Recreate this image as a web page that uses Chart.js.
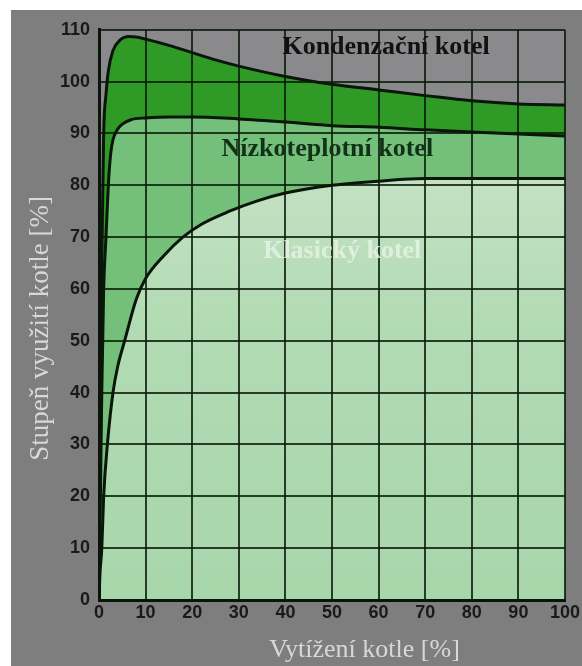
<!DOCTYPE html>
<html>
<head>
<meta charset="utf-8">
<script src="https://cdn.jsdelivr.net/npm/chart.js@4.4.1/dist/chart.umd.min.js"></script>
<style>
    html, body { margin: 0; padding: 0; background: #ffffff; }
    #wrap { position: absolute; left: 11px; top: 10px; width: 571px; height: 656px; background: #7e7e7e; }
</style>
</head>
<body>
<div id="wrap"><canvas id="kotle"></canvas></div>
<script>
// osa x: vytížení kotle [%]
var xTicks = [0, 10, 20, 30, 40, 50, 60, 70, 80, 90, 100];
var yTicks = [0, 10, 20, 30, 40, 50, 60, 70, 80, 90, 100, 110];

// klasický kotel
var xKlasicky = [0, 0.2, 0.6, 1, 1.8, 3, 4, 5.5, 8, 10, 14, 18, 22, 28, 34, 40, 50, 60, 70, 80, 90, 100];
var yKlasicky = [0, 5, 10, 20, 30, 40, 45, 50, 58, 62, 66.5, 70, 72.5, 75, 77, 78.5, 80, 80.8, 81.3, 81.3, 81.3, 81.3];

// nízkoteplotní kotel
var xNizko = [0, 0.3, 0.6, 1, 1.5, 2, 2.5, 3, 4, 5, 7, 10, 15, 20, 30, 40, 50, 60, 70, 80, 90, 100];
var yNizko = [0, 20, 40, 60, 70, 80, 86, 88.8, 90.8, 91.8, 92.7, 93, 93.2, 93.2, 92.8, 92.2, 91.5, 91.2, 90.7, 90.3, 89.9, 89.5];

// kondenzační kotel
var xKondenz = [0, 0.2, 0.5, 1, 1.5, 2, 3, 4.5, 6.5, 8, 10, 15, 20, 25, 30, 40, 50, 60, 70, 80, 90, 100];
var yKondenz = [0, 30, 60, 90, 97.5, 102, 106, 108, 108.7, 108.6, 108.2, 107, 105.6, 104.2, 103, 101, 99.5, 98.4, 97.3, 96.3, 95.7, 95.5];

// popisky v grafu
var popisky = ['Kondenzační kotel', 'Nízkoteplotní kotel', 'Klasický kotel'];
var popiskyX = [61.6, 49, 52.2];
var popiskyY = [106.6, 87, 67.3];

function body(xs, ys) {
    return xs.map(function(x, i){ return { x: x, y: ys[i] }; });
}

var pozadiPlochy = {
    id: 'pozadiPlochy',
    beforeDatasetsDraw: function(chart) {
        var a = chart.chartArea, ctx = chart.ctx;
        ctx.save();
        ctx.fillStyle = '#8a898b';
        ctx.fillRect(a.left, a.top, a.right - a.left, a.bottom - a.top);
        ctx.restore();
    }
};

var textyPlochy = {
    id: 'textyPlochy',
    afterDraw: function(chart) {
        var ctx = chart.ctx, sx = chart.scales.x, sy = chart.scales.y;
        var barvy = ['#111111', '#123218', 'rgba(232,242,230,0.8)'];
        ctx.save();
        ctx.font = 'bold 26px "Liberation Serif"';
        ctx.textAlign = 'center';
        ctx.textBaseline = 'middle';
        popisky.forEach(function(t, i) {
            ctx.fillStyle = barvy[i];
            ctx.fillText(t, sx.getPixelForValue(popiskyX[i]), sy.getPixelForValue(popiskyY[i]));
        });
        ctx.restore();
    }
};

function svetleZelena(c) {
    var a = c.chart.chartArea;
    if (!a) return '#acd8ae';
    var g = c.chart.ctx.createLinearGradient(0, a.top + 150, 0, a.bottom);
    g.addColorStop(0, '#c3e1c3');
    g.addColorStop(0.35, '#b2dbb3');
    g.addColorStop(1, '#a8d6ab');
    return g;
}

var mrizka = 'rgba(8,26,8,0.82)';
var tickFont = { family: '"Liberation Sans"', size: 18, weight: 'bold' };

new Chart(document.getElementById('kotle'), {
    type: 'line',
    data: {
        datasets: [{
            label: 'Klasický kotel',
            data: body(xKlasicky, yKlasicky),
            backgroundColor: svetleZelena,
            fill: 'origin'
        }, {
            label: 'Nízkoteplotní kotel',
            data: body(xNizko, yNizko),
            backgroundColor: '#74c07b',
            fill: 'origin'
        }, {
            label: 'Kondenzační kotel',
            data: body(xKondenz, yKondenz),
            backgroundColor: '#2f9b26',
            fill: 'origin'
        }]
    },
    options: {
        responsive: true, maintainAspectRatio: false, animation: false,
        layout: { padding: { left: 0, top: 15, right: 14, bottom: 0 } },
        elements: {
            line: { borderColor: '#0a160a', borderWidth: 3, cubicInterpolationMode: 'monotone' },
            point: { radius: 0 }
        },
        plugins: { legend: { display: false }, tooltip: { enabled: false } },
        scales: {
            x: {
                type: 'linear', min: 0, max: 100,
                afterBuildTicks: function(s){ s.ticks = xTicks.map(function(v){ return { value: v }; }); },
                afterFit: function(s){ s.height = 66; },
                grid: { color: mrizka, lineWidth: 2, drawTicks: false, z: 1 },
                border: { display: true, color: '#0a140a', width: 3, z: 2 },
                ticks: { font: tickFont, color: '#1a1a1a', padding: 2 },
                title: {
                    display: true, text: '          Vytížení kotle [%]',
                    color: '#d8d8d8', font: { family: '"Liberation Serif"', size: 26 },
                    padding: { top: 0, bottom: 0 }
                }
            },
            y: {
                min: 0, max: 110,
                afterBuildTicks: function(s){ s.ticks = yTicks.map(function(v){ return { value: v }; }); },
                afterFit: function(s){ s.width = 88; },
                grid: { color: mrizka, lineWidth: 2, drawTicks: false, z: 1 },
                border: { display: true, color: '#0a140a', width: 3, z: 2 },
                ticks: { font: tickFont, color: '#1a1a1a', padding: 9 },
                title: {
                    display: true, text: 'Stupeň využití kotle [%]    ',
                    color: '#d8d8d8', font: { family: '"Liberation Serif"', size: 27 },
                    padding: { top: 14, bottom: 0 }
                }
            }
        }
    },
    plugins: [pozadiPlochy, textyPlochy]
});
</script>
</body>
</html>
